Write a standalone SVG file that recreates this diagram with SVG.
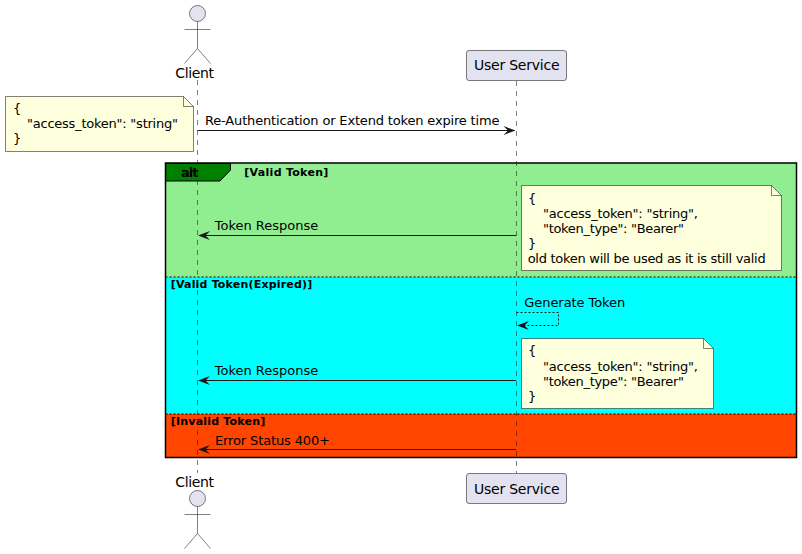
<svg xmlns="http://www.w3.org/2000/svg" width="802" height="554" viewBox="0 0 802 554">
<style>
text{font-family:"DejaVu Sans",sans-serif;fill:#000}
.m{font-size:13px}
.p{font-size:14px}
.b{font-size:11px;font-weight:bold}
.life{stroke:#181818;stroke-opacity:.55;stroke-width:1;stroke-dasharray:5,5;fill:none}
.act{fill:#E2E2F0;stroke:#181818;stroke-opacity:.55;stroke-width:1}
.lim{fill:none;stroke:#181818;stroke-opacity:.55;stroke-width:1}
.box{fill:#E2E2F0;stroke:#181818;stroke-opacity:.55;stroke-width:1}
.note{fill:#FEFFDD;stroke:#181818;stroke-opacity:.55;stroke-width:1}
.fold{fill:none;stroke:#181818;stroke-opacity:.55;stroke-width:1}
.msg{stroke:#181818;stroke-width:1;fill:none}
.dash{stroke:#181818;stroke-width:1;fill:none;stroke-dasharray:2,2}
.sep{stroke:#000;stroke-width:1;stroke-dasharray:2,2;fill:none}
.head{fill:#181818}
</style>
<g id="frame">
<rect x="165.5" y="163" width="631" height="114" fill="#90EE90"/>
<rect x="165.5" y="277" width="631" height="137" fill="#00FFFF"/>
<rect x="165.5" y="414" width="631" height="43.5" fill="#FF4500"/>
<path d="M165.5 163.500H230.500V170L220 181H165.500Z" fill="#008000" stroke="#000" stroke-width="1"/>
<text class="b" x="181" y="177" style="font-size:13px" textLength="17.500">alt</text>
<text class="b" x="244.300" y="175.500" textLength="84">[Valid Token]</text>
<line class="sep" x1="165.500" y1="277" x2="796.500" y2="277"/>
<text class="b" x="170.700" y="288" textLength="141.600">[Valid Token(Expired)]</text>
<line class="sep" x1="165.500" y1="414" x2="796.500" y2="414"/>
<text class="b" x="170.700" y="425" textLength="94.600">[Invalid Token]</text>
<rect x="165.500" y="163" width="631" height="294.500" fill="none" stroke="#000" stroke-width="1.500"/>
</g>
<g id="lifelines">
<line class="life" x1="197.500" y1="80" x2="197.500" y2="473"/>
<line class="life" x1="516.500" y1="81" x2="516.500" y2="473"/>
</g>
<g id="connectors">
<line class="msg" x1="197.500" y1="130.500" x2="512" y2="130.500"/>
<path class="head" d="M515.500 130.500L503.500 126L508 130.500L503.500 135Z"/>
<text class="m" x="205" y="125" textLength="294.500">Re-Authentication or Extend token expire time</text>
<line class="msg" x1="202" y1="235.500" x2="516" y2="235.500"/>
<path class="head" d="M198 235.500L210 231L205.500 235.500L210 240Z"/>
<text class="m" x="214.700" y="230" textLength="103.600">Token Response</text>
<path class="dash" d="M516.500 312.500H558.500V325.500H521"/>
<path class="head" d="M517 325.500L529 321L524.500 325.500L529 330Z"/>
<text class="m" x="524.300" y="307" textLength="101">Generate Token</text>
<line class="msg" x1="202" y1="380.500" x2="516" y2="380.500"/>
<path class="head" d="M198 380.500L210 376L205.500 380.500L210 385Z"/>
<text class="m" x="214.700" y="375" textLength="103.600">Token Response</text>
<line class="msg" x1="202" y1="449.500" x2="516" y2="449.500"/>
<path class="head" d="M198 449.500L210 445L205.500 449.500L210 454Z"/>
<text class="m" x="215" y="445" textLength="115">Error Status 400+</text>
</g>
<g id="actor-client-top">
<circle class="act" cx="197.500" cy="13.500" r="8"/>
<path class="lim" d="M197.500 21.500V48.500M184.500 29.500H210.500M197.500 48.500L184.500 63.500M197.500 48.500L210.500 63.500"/>
<text class="p" x="175.300" y="78" textLength="38.700">Client</text>
</g>
<g id="participant-user-service-top">
<rect class="box" x="466.500" y="50.500" width="100" height="30" rx="2.500" ry="2.500"/>
<text class="p" x="474" y="70" textLength="85.500">User Service</text>
</g>
<g id="note-request">
<path class="note" d="M5.500 96.500H183.500L193.500 106.500V151.500H5.500Z"/>
<path class="fold" d="M183.500 96.500V106.500H193.500"/>
<text class="m" x="13" y="113">{</text>
<text class="m" x="27" y="128" textLength="151">"access_token": "string"</text>
<text class="m" x="13" y="143">}</text>
</g>
<g id="note-valid">
<path class="note" d="M521.500 185.500H771.500L781.500 195.500V270.500H521.500Z"/>
<path class="fold" d="M771.500 185.500V195.500H781.500"/>
<text class="m" x="528" y="203">{</text>
<text class="m" x="543" y="218" textLength="155">"access_token": "string",</text>
<text class="m" x="543" y="233" textLength="141">"token_type": "Bearer"</text>
<text class="m" x="528" y="248">}</text>
<text class="m" x="527.700" y="263" textLength="238">old token will be used as it is still valid</text>
</g>
<g id="note-expired">
<path class="note" d="M521.500 338.500H703.500L713.500 348.500V408.500H521.500Z"/>
<path class="fold" d="M703.500 338.500V348.500H713.500"/>
<text class="m" x="528" y="355">{</text>
<text class="m" x="543" y="371" textLength="155">"access_token": "string",</text>
<text class="m" x="543" y="385.500" textLength="141">"token_type": "Bearer"</text>
<text class="m" x="528" y="400.500">}</text>
</g>
<g id="actor-client-bottom">
<text class="p" x="175.300" y="487" textLength="38.700">Client</text>
<circle class="act" cx="197.500" cy="498.500" r="8"/>
<path class="lim" d="M197.500 506.500V533.500M184.500 514.500H210.500M197.500 533.500L184.500 548.500M197.500 533.500L210.500 548.500"/>
</g>
<g id="participant-user-service-bottom">
<rect class="box" x="466.500" y="473.500" width="100" height="30" rx="2.500" ry="2.500"/>
<text class="p" x="474" y="493.500" textLength="85.500">User Service</text>
</g>
</svg>
